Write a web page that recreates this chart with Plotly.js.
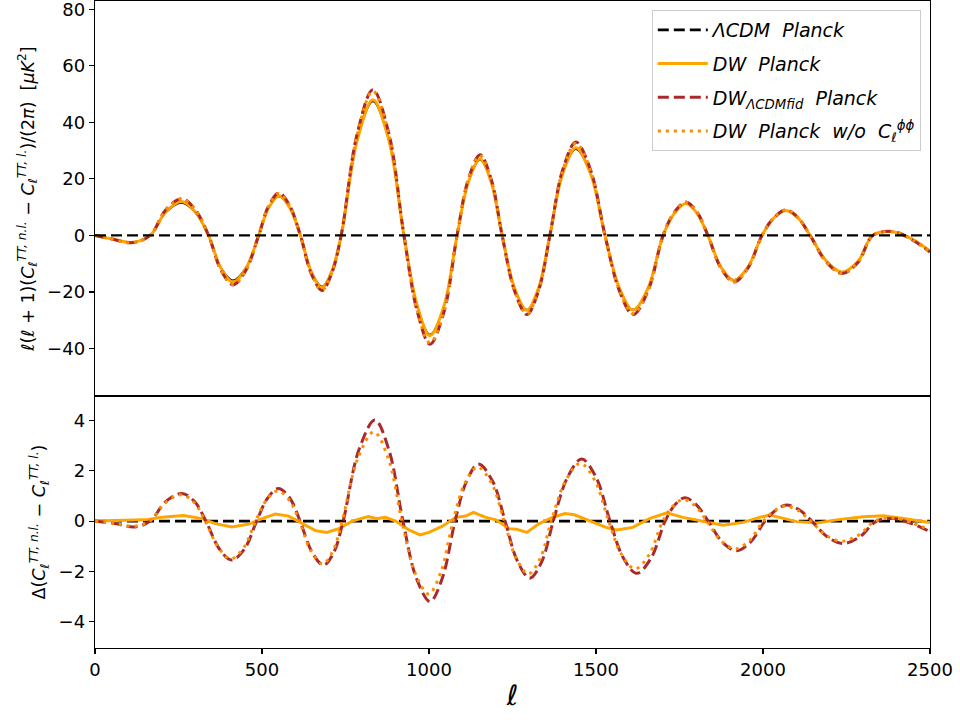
<!DOCTYPE html>
<html>
<head>
<meta charset="utf-8">
<script src="https://cdn.plot.ly/plotly-3.0.1.min.js"></script>
<style>html,body{margin:0;padding:0;background:#fff;}#chart{width:960px;height:720px;}</style>
</head>
<body>
<div id="chart"></div>
<script>
// ---------- Top panel: l(l+1)(C_nl - C_l)/(2pi) ----------
const ellTop = [0, 50, 110, 165, 212, 260, 300, 340, 377, 413, 452, 490, 520, 551, 583, 615, 648, 680, 708, 737, 785, 832, 880, 925, 965, 1003, 1045, 1084, 1118, 1153, 1186, 1219, 1256, 1293, 1328, 1362, 1400, 1440, 1484, 1527, 1570, 1611, 1656, 1701, 1735, 1769, 1802, 1835, 1874, 1913, 1955, 1997, 2033, 2069, 2105, 2141, 2190, 2237, 2285, 2329, 2392, 2450, 2500];
const lcdmTop   = [0, -1.2, -2.4, 0, 8.0, 11.4, 8.0, 0, -11.2, -15.8, -11.2, 0, 9.6, 13.7, 9.6, 0, -12.6, -18.0, -12.6, 0, 33.2, 47.3, 33.2, 0, -24.6, -35.0, -24.6, 0, 18.7, 26.6, 18.7, 0, -18.4, -26.2, -18.4, 0, 21.4, 30.4, 21.4, 0, -18.4, -26.2, -18.4, 0, 7.8, 11.2, 7.8, 0, -11.0, -15.7, -11.0, 0, 6.1, 8.7, 6.1, 0, -9.0, -12.8, -9.0, 0, 1.2, -1.6, -5.6];
const dwTop     = [0, -1.2, -2.5, 0, 8.4, 12.0, 8.4, 0, -11.6, -16.5, -11.6, 0, 9.8, 14.0, 9.8, 0, -13.0, -18.5, -13.0, 0, 33.6, 48.0, 33.6, 0, -24.9, -35.5, -24.9, 0, 18.9, 27.0, 18.9, 0, -18.6, -26.5, -18.6, 0, 21.7, 31.0, 21.7, 0, -18.6, -26.5, -18.6, 0, 7.9, 11.3, 7.9, 0, -11.2, -16.0, -11.2, 0, 6.2, 8.8, 6.2, 0, -9.1, -13.0, -9.1, 0, 1.2, -1.6, -5.6];
const dwFidTop  = [0, -1.3, -2.6, 0, 9.1, 13.0, 9.1, 0, -12.3, -17.5, -12.3, 0, 10.5, 15.0, 10.5, 0, -13.7, -19.5, -13.7, 0, 36.0, 51.5, 36.0, 0, -27.0, -38.5, -27.0, 0, 20.0, 28.5, 20.0, 0, -19.6, -28.0, -19.6, 0, 23.1, 33.0, 23.1, 0, -19.6, -28.0, -19.6, 0, 8.3, 11.8, 8.3, 0, -11.6, -16.5, -11.6, 0, 6.3, 9.0, 6.3, 0, -9.5, -13.5, -9.5, 0, 1.3, -1.8, -5.9];
const dwNoLensTop = [0, -1.3, -2.6, 0, 9.0, 12.9, 9.0, 0, -12.2, -17.4, -12.2, 0, 10.4, 14.8, 10.4, 0, -13.6, -19.3, -13.6, 0, 35.7, 51.0, 35.7, 0, -26.7, -38.0, -26.7, 0, 19.8, 28.2, 19.8, 0, -19.4, -27.7, -19.4, 0, 22.9, 32.6, 22.9, 0, -19.4, -27.7, -19.4, 0, 8.2, 11.7, 8.2, 0, -11.5, -16.4, -11.5, 0, 6.3, 9.0, 6.3, 0, -9.4, -13.4, -9.4, 0, 1.3, -1.7, -5.8];

// ---------- Bottom panel: Delta(C_nl - C_l) relative to LCDM ----------
const ellZero = [0, 2500];
const lcdmDiff = [0, 0];

const ellFid = [0, 60, 120, 165, 212, 260, 298, 332, 372, 409, 448, 484, 517, 549, 583, 614, 650, 684, 715, 743, 790, 838, 880, 922, 962, 1003, 1040, 1078, 1113, 1148, 1190, 1228, 1265, 1302, 1338, 1372, 1415, 1457, 1500, 1542, 1582, 1622, 1665, 1707, 1737, 1766, 1800, 1836, 1878, 1921, 1963, 2006, 2040, 2071, 2108, 2146, 2193, 2240, 2290, 2340, 2390, 2445, 2500];
const dwFidDiff = [0, -0.1, -0.23, 0, 0.78, 1.1, 0.78, 0, -1.1, -1.55, -1.1, 0, 0.92, 1.3, 0.92, 0, -1.24, -1.75, -1.24, 0, 2.83, 4.02, 2.83, 0, -2.26, -3.2, -2.26, 0, 1.6, 2.27, 1.6, 0, -1.6, -2.27, -1.6, 0, 1.75, 2.47, 1.75, 0, -1.47, -2.08, -1.47, 0, 0.66, 0.93, 0.66, 0, -0.83, -1.18, -0.83, 0, 0.45, 0.64, 0.45, 0, -0.63, -0.89, -0.62, 0, 0.1, -0.1, -0.42];

const ellNoLens = [0, 60, 120, 164, 211, 259, 297, 330, 370, 407, 445, 481, 514, 547, 581, 612, 647, 682, 712, 740, 787, 835, 878, 919, 958, 999, 1035, 1072, 1108, 1145, 1187, 1225, 1261, 1298, 1333, 1366, 1410, 1453, 1496, 1538, 1577, 1617, 1659, 1700, 1731, 1762, 1797, 1832, 1874, 1917, 1959, 2001, 2035, 2067, 2105, 2143, 2189, 2236, 2286, 2336, 2388, 2443, 2500];
const dwNoLensDiff = [0, -0.1, -0.2, 0, 0.74, 1.05, 0.74, 0, -1.06, -1.5, -1.06, 0, 0.85, 1.2, 0.85, 0, -1.2, -1.7, -1.2, 0, 2.5, 3.55, 2.5, 0, -2.05, -2.9, -2.05, 0, 1.52, 2.15, 1.52, 0, -1.48, -2.1, -1.48, 0, 1.63, 2.3, 1.63, 0, -1.34, -1.9, -1.34, 0, 0.6, 0.86, 0.6, 0, -0.78, -1.1, -0.78, 0, 0.42, 0.6, 0.42, 0, -0.57, -0.8, -0.56, 0, 0.12, -0.06, -0.36];

const ellDw = [0, 100, 150, 200, 265, 320, 360, 410, 460, 500, 540, 580, 620, 660, 694, 730, 770, 818, 845, 870, 900, 940, 973, 1000, 1040, 1080, 1110, 1133, 1170, 1200, 1240, 1262, 1293, 1330, 1370, 1407, 1435, 1480, 1530, 1562, 1610, 1660, 1712, 1760, 1800, 1840, 1881, 1940, 1990, 2021, 2060, 2100, 2162, 2220, 2300, 2360, 2420, 2500];
const dwDiff = [0, 0.02, 0.05, 0.15, 0.22, 0.1, -0.1, -0.23, -0.12, 0.1, 0.28, 0.2, -0.1, -0.38, -0.45, -0.3, 0.0, 0.18, 0.1, 0.15, 0.0, -0.35, -0.55, -0.45, -0.2, 0.15, 0.2, 0.35, 0.15, 0.05, -0.3, -0.32, -0.45, -0.1, 0.15, 0.3, 0.25, 0.0, -0.25, -0.35, -0.25, 0.1, 0.33, 0.15, 0.05, -0.05, -0.16, -0.05, 0.15, 0.24, 0.1, -0.02, -0.07, 0.05, 0.17, 0.21, 0.1, -0.06];

const xTicks = [0, 500, 1000, 1500, 2000, 2500];

const BLACK = '#000000', ORANGE = '#ffa500', BROWN = '#a82a2a', DORANGE = '#ff8c00';
const W = 3;

const traces = [
  // top panel
  {x: ellTop, y: lcdmTop, xaxis: 'x', yaxis: 'y', mode: 'lines', line: {color: BLACK, width: 1.2, shape: 'spline'}, showlegend: false, hoverinfo: 'skip'},
  {x: ellTop, y: dwTop, xaxis: 'x', yaxis: 'y', mode: 'lines', line: {color: ORANGE, width: W, shape: 'spline'}, showlegend: false},
  {x: ellTop, y: dwFidTop, xaxis: 'x', yaxis: 'y', mode: 'lines', line: {color: BROWN, width: W, dash: '11px,5px', shape: 'spline'}, showlegend: false},
  {x: ellTop, y: dwNoLensTop, xaxis: 'x', yaxis: 'y', mode: 'lines', line: {color: DORANGE, width: W, dash: '3px,5px', shape: 'spline'}, showlegend: false},
  // bottom panel (legend entries)
  {x: ellZero, y: lcdmDiff, xaxis: 'x2', yaxis: 'y2', mode: 'lines', legendgroup: 'a', name: '<i>ΛCDM  Planck</i>', line: {color: BLACK, width: 2.6, dash: '11px,5px'}},
  {x: ellDw, y: dwDiff, xaxis: 'x2', yaxis: 'y2', mode: 'lines', legendgroup: 'b', name: '<i>DW  Planck</i>', line: {color: ORANGE, width: W}},
  {x: ellFid, y: dwFidDiff, xaxis: 'x2', yaxis: 'y2', mode: 'lines', legendgroup: 'c', name: '<i>DW<sub>ΛCDMfid</sub>  Planck</i>', line: {color: BROWN, width: W, dash: '11px,5px', shape: 'spline'}},
  {x: ellNoLens, y: dwNoLensDiff, xaxis: 'x2', yaxis: 'y2', mode: 'lines', legendgroup: 'd', name: '<i>DW  Planck  w/o  C<sub>ℓ</sub><sup>ϕϕ</sup></i>', line: {color: DORANGE, width: W, dash: '3px,5px', shape: 'spline'}}
];

const FONT = 'DejaVu Sans, sans-serif';
const split = 0.3895;
const axCommon = {showline: true, linecolor: '#000', linewidth: 1.3, mirror: true, ticks: 'outside', ticklen: 5, tickwidth: 1.2, tickcolor: '#000', showgrid: false, zeroline: false, tickfont: {size: 18, color: '#000'}, ticklabeloverflow: 'allow'};

const layout = {
  width: 960, height: 720,
  margin: {l: 95, r: 30, t: 1, b: 72},
  paper_bgcolor: '#fff', plot_bgcolor: '#fff',
  font: {family: FONT, color: '#000'},
  showlegend: true,
  legend: {x: 0.989, xanchor: 'right', y: 0.986, yanchor: 'top', bgcolor: 'rgba(255,255,255,0.85)', bordercolor: '#cccccc', borderwidth: 1, font: {size: 19, color: '#000'}, tracegroupgap: 6, itemwidth: 50, traceorder: 'grouped'},
  xaxis: Object.assign({}, axCommon, {domain: [0, 1], range: [0, 2500], anchor: 'y', showticklabels: false, ticks: '', matches: 'x2'}),
  yaxis: Object.assign({}, axCommon, {domain: [split, 1], range: [-56.8, 82.9], tickvals: [-40, -20, 0, 20, 40, 60, 80], ticktext: ['−40', '−20', '0', '20', '40', '60', '80'], anchor: 'x',
    title: {text: '<i>ℓ</i>(<i>ℓ</i> + 1)(<i>C</i><sub><i>ℓ</i></sub><sup><i>TT, n.l.</i></sup> − <i>C</i><sub><i>ℓ</i></sub><sup><i>TT, l.</i></sup>)/(2<i>π</i>)  [<i>μK</i><sup>2</sup>]', font: {size: 17.5}, standoff: 8}}),
  xaxis2: Object.assign({}, axCommon, {domain: [0, 1], range: [0, 2500], anchor: 'y2', tickvals: xTicks, ticktext: xTicks.map(String),
    title: {text: '<i>ℓ</i>', font: {size: 28}, standoff: 6}}),
  yaxis2: Object.assign({}, axCommon, {domain: [0, split], range: [-5.05, 4.98], tickvals: [-4, -2, 0, 2, 4], ticktext: ['−4', '−2', '0', '2', '4'], anchor: 'x2',
    title: {text: 'Δ(<i>C</i><sub><i>ℓ</i></sub><sup><i>TT, n.l.</i></sup> − <i>C</i><sub><i>ℓ</i></sub><sup><i>TT, l.</i></sup>)', font: {size: 17.5}, standoff: 8}}),
  shapes: [
    {type: 'line', xref: 'x', yref: 'y', x0: 0, x1: 2500, y0: 0, y1: 0, line: {color: '#000', width: 2.2, dash: '11px,5px'}, layer: 'above'}
  ]
};

Plotly.newPlot('chart', traces, layout, {staticPlot: true, displayModeBar: false});
</script>
</body>
</html>
